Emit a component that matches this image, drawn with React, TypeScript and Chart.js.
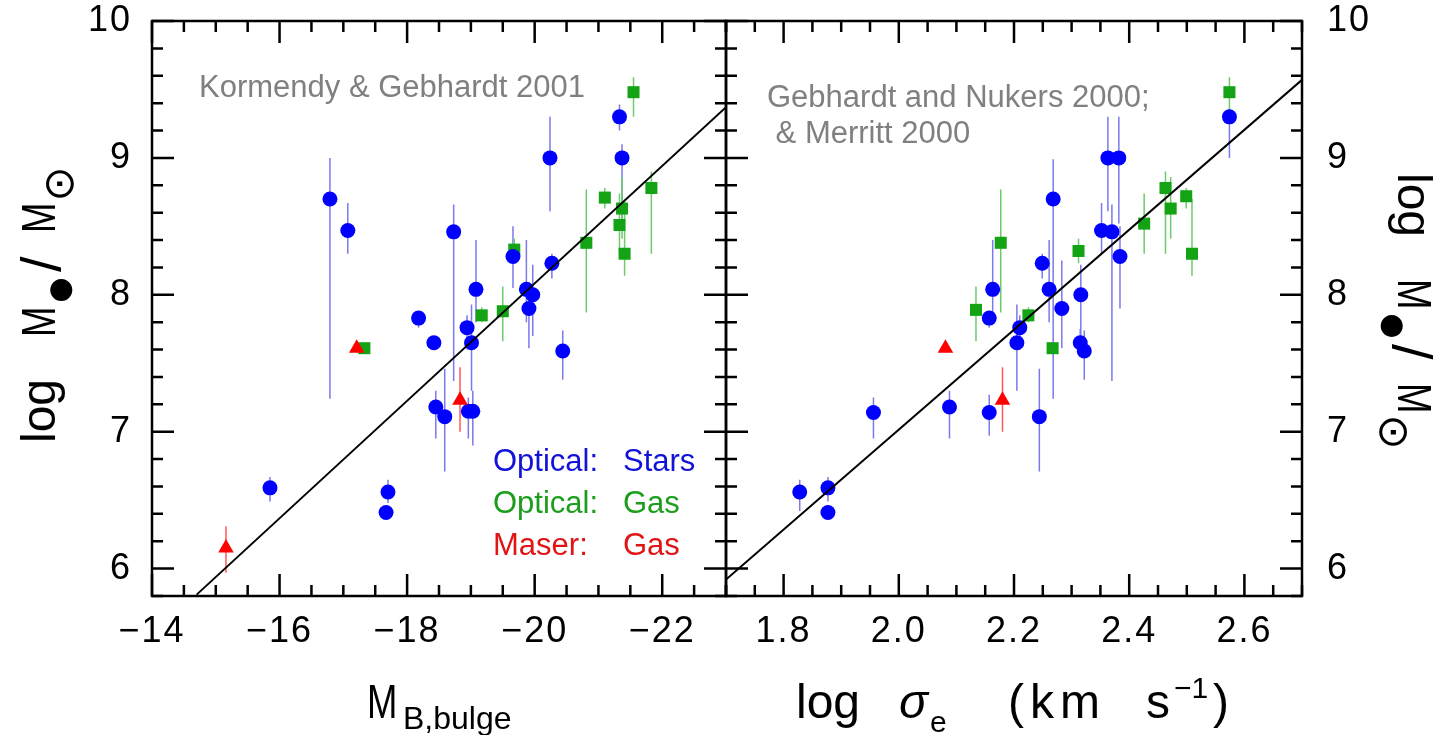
import React, { useEffect, useRef } from "react";
import { Chart, registerables } from "chart.js";
Chart.register(...registerables);

// ---------- axes ----------
const yMin = 5.8;
const yMax = 10;
const yStep = 0.2;
const yLabels = [6, 7, 8, 9, 10];

const leftXMin = -23;
const leftXMax = -14;
const leftXStep = 0.5;
const leftXLabels = [-14, -16, -18, -20, -22];

const rightXMin = 1.7;
const rightXMax = 2.7;
const rightXStep = 0.05;
const rightXLabels = [1.8, 2.0, 2.2, 2.4, 2.6];

// ---------- left panel: M_B,bulge ----------
const leftStarsX = [-16.79, -17.07, -18.73, -19.08, -19.66, -19.87, -19.97, -19.91, -20.24, -20.27, -21.33, -21.37, -18.18, -18.42, -18.45, -18.59, -15.85, -17.70, -17.67, -18.94, -19.01, -20.44, -18.96, -19.03];
const leftStarsY = [8.70, 8.47, 8.46, 8.04, 8.28, 8.04, 8.00, 7.90, 9.00, 8.23, 9.30, 9.00, 7.83, 7.65, 7.18, 7.11, 6.59, 6.56, 6.41, 7.76, 7.65, 7.59, 7.15, 7.15];
const leftStarsLo = [7.24, 8.30, 7.37, 7.80, 8.05, 7.80, 7.70, 7.61, 8.61, 8.12, 9.20, 8.52, 7.76, 7.60, 6.95, 6.71, 6.49, 6.48, 6.38, 7.60, 7.30, 7.38, 6.95, 6.90];
const leftStarsHi = [9.00, 8.67, 8.66, 8.40, 8.50, 8.40, 8.22, 8.05, 9.30, 8.30, 9.39, 9.10, 7.88, 7.70, 7.30, 7.46, 6.67, 6.65, 6.45, 7.85, 7.93, 7.74, 7.25, 7.30];

const leftGasX = [-17.33, -19.68, -20.81, -21.10, -21.37, -21.33, -21.41, -21.55, -21.83, -19.17, -19.50];
const leftGasY = [7.61, 8.33, 8.38, 8.71, 8.63, 8.51, 8.30, 9.48, 8.78, 7.85, 7.88];
const leftGasLo = [7.58, 8.25, 7.87, 8.63, 8.41, 8.30, 8.14, 9.30, 8.30, 7.80, 7.66];
const leftGasHi = [7.64, 8.41, 8.77, 8.78, 8.86, 8.74, 8.70, 9.59, 8.90, 7.91, 8.06];

const leftMaserX = [-15.16, -17.21, -18.83];
const leftMaserY = [6.15, 7.61, 7.23];
const leftMaserLo = [5.97, 7.58, 7.00];
const leftMaserHi = [6.31, 7.64, 7.47];

const leftFitX = [-14.7, -23.0];
const leftFitY = [5.81, 9.37];

// ---------- right panel: log sigma_e ----------
const rightStarsX = [1.828, 1.877, 1.877, 1.956, 2.088, 2.157, 2.244, 2.163, 2.157, 2.210, 2.205, 2.261, 2.268, 2.249, 2.283, 2.316, 2.315, 2.322, 2.352, 2.370, 2.363, 2.382, 2.384, 2.574];
const rightStarsY = [6.56, 6.59, 6.41, 7.14, 7.18, 7.14, 7.11, 8.04, 7.83, 7.76, 7.65, 8.04, 8.70, 8.23, 7.90, 8.00, 7.65, 7.59, 8.47, 8.46, 9.00, 9.00, 8.28, 9.30];
const rightStarsLo = [6.42, 6.49, 6.38, 6.95, 6.95, 6.97, 6.71, 7.85, 7.76, 7.60, 7.30, 7.80, 7.24, 8.12, 7.61, 7.70, 7.55, 7.38, 8.30, 7.37, 8.61, 8.52, 7.90, 9.00];
const rightStarsHi = [6.65, 6.67, 6.45, 7.25, 7.30, 7.27, 7.46, 8.40, 7.88, 7.85, 7.93, 8.40, 8.99, 8.30, 8.25, 8.22, 7.75, 7.74, 8.67, 8.66, 9.30, 9.30, 8.50, 9.36];

const rightGasX = [2.134, 2.177, 2.225, 2.267, 2.312, 2.426, 2.463, 2.472, 2.499, 2.509, 2.574];
const rightGasY = [7.89, 8.38, 7.85, 7.61, 8.32, 8.52, 8.78, 8.63, 8.72, 8.30, 9.48];
const rightGasLo = [7.66, 7.87, 7.80, 7.58, 8.23, 8.30, 8.30, 8.41, 8.63, 8.14, 9.30];
const rightGasHi = [8.06, 8.77, 7.91, 7.64, 8.41, 8.74, 8.90, 8.86, 8.78, 8.70, 9.59];

const rightMaserX = [2.081, 2.180];
const rightMaserY = [7.61, 7.23];
const rightMaserLo = [7.58, 7.00];
const rightMaserHi = [7.64, 7.47];

const rightFitX = [1.7, 2.7];
const rightFitY = [5.92, 9.57];

// ---------- texts ----------
const leftNote = "Kormendy & Gebhardt 2001";
const rightNote1 = "Gebhardt and Nukers 2000;";
const rightNote2 = " & Merritt 2000";
const legendRows = [
  ["Optical:", "Stars"],
  ["Optical:", "Gas"],
  ["Maser:", "Gas"],
];

// ---------- styles ----------
const FONT = '"Liberation Sans", Arial, sans-serif';
const SYM = '"DejaVu Sans", sans-serif';
const BLUE = "#0000ff";
const GREEN = "#14a314";
const RED = "#ff0000";
const BLUE_ERR = "#7a7aec";
const GREEN_ERR = "#6ccc6c";
const RED_ERR = "#ff5a5a";
const LEGEND_COLORS = ["#1212d8", "#1c9e1c", "#e01414"];
const NOTE_GRAY = "#808080";

const pts = (xs: number[], ys: number[]) => xs.map((x, i) => ({ x, y: ys[i] }));
const near = (arr: number[], v: number) => arr.some((a) => Math.abs(a - v) < 1e-6);
const minus = (v: number) => (v < 0 ? "\u2212" + Math.abs(v) : String(v));

function frameTicksPlugin(xMajor: number[], yMajor: number[]) {
  return {
    id: "frameTicks",
    beforeDraw(chart: any) {
      // slightly wider tick-label spacing, like the plotting font of the original
      (chart.ctx as any).letterSpacing = "2px";
    },
    beforeDatasetsDraw(chart: any) {
      (chart.ctx as any).letterSpacing = "0px";
    },
    afterDraw(chart: any) {
      const { ctx, chartArea: a, scales } = chart;
      ctx.save();
      ctx.strokeStyle = "#000";
      ctx.lineWidth = 2.5;
      ctx.beginPath();
      for (const t of scales.x.ticks) {
        const p = scales.x.getPixelForValue(t.value);
        const L = near(xMajor, t.value) ? 22 : 11;
        ctx.moveTo(p, a.bottom);
        ctx.lineTo(p, a.bottom - L);
        ctx.moveTo(p, a.top);
        ctx.lineTo(p, a.top + L);
      }
      for (const t of scales.y.ticks) {
        const p = scales.y.getPixelForValue(t.value);
        const L = near(yMajor, t.value) ? 22 : 11;
        ctx.moveTo(a.left, p);
        ctx.lineTo(a.left + L, p);
        ctx.moveTo(a.right, p);
        ctx.lineTo(a.right - L, p);
      }
      ctx.stroke();
      ctx.strokeRect(a.left, a.top, a.right - a.left, a.bottom - a.top);
      ctx.restore();
    },
  };
}

const errorBarPlugin = {
  id: "errorBars",
  beforeDatasetsDraw(chart: any) {
    const { ctx, scales } = chart;
    ctx.save();
    ctx.lineWidth = 1.5;
    chart.data.datasets.forEach((ds: any) => {
      if (!ds.errLo) return;
      ctx.strokeStyle = ds.errColor;
      ctx.beginPath();
      ds.data.forEach((p: any, i: number) => {
        const px = scales.x.getPixelForValue(p.x);
        ctx.moveTo(px, scales.y.getPixelForValue(ds.errLo[i]));
        ctx.lineTo(px, scales.y.getPixelForValue(ds.errHi[i]));
      });
      ctx.stroke();
    });
    ctx.restore();
  },
};

function txt(ctx: CanvasRenderingContext2D, s: string, x: number, y: number, font: string, color: string, align: CanvasTextAlign = "left", base: CanvasTextBaseline = "alphabetic") {
  ctx.font = font;
  ctx.fillStyle = color;
  ctx.textAlign = align;
  ctx.textBaseline = base;
  ctx.fillText(s, x, y);
}

function narrowM(ctx: CanvasRenderingContext2D, x: number, y: number) {
  ctx.save();
  ctx.translate(x, y);
  ctx.scale(0.76, 1);
  txt(ctx, "M", 0, 0, `48px ${FONT}`, "#000");
  ctx.restore();
}

// "log M●/M⊙" drawn along a rotated baseline
function massTitle(ctx: CanvasRenderingContext2D, ox: number, oy: number, angle: number) {
  ctx.save();
  ctx.translate(ox, oy);
  ctx.rotate(angle);
  txt(ctx, "log", 0, 0, `48px ${FONT}`, "#000");
  narrowM(ctx, 106, 0);
  txt(ctx, "\u25CF", 153, 6, `29px ${SYM}`, "#000", "center", "middle");
  txt(ctx, "/", 171, 5, `56px ${FONT}`, "#000");
  narrowM(ctx, 210, 0);
  txt(ctx, "\u2299", 259, 7, `42px ${SYM}`, "#000", "center", "middle");
  ctx.restore();
}

function datasets(fx: number[], fy: number[], sx: number[], sy: number[], slo: number[], shi: number[], gx: number[], gy: number[], glo: number[], ghi: number[], mx: number[], my: number[], mlo: number[], mhi: number[]) {
  return [
    { label: "fit", data: pts(fx, fy), showLine: true, borderColor: "#000", borderWidth: 2, pointRadius: 0, fill: false },
    { label: "Maser: Gas", data: pts(mx, my), pointStyle: "triangle", pointRadius: 9, pointBackgroundColor: RED, pointBorderWidth: 0, backgroundColor: RED, borderColor: RED, errLo: mlo, errHi: mhi, errColor: RED_ERR },
    { label: "Optical: Stars", data: pts(sx, sy), pointStyle: "circle", pointRadius: 7.5, pointBackgroundColor: BLUE, pointBorderWidth: 0, backgroundColor: BLUE, borderColor: BLUE, errLo: slo, errHi: shi, errColor: BLUE_ERR },
    { label: "Optical: Gas", data: pts(gx, gy), pointStyle: "rect", pointRadius: 8.5, pointBackgroundColor: GREEN, pointBorderWidth: 0, backgroundColor: GREEN, borderColor: GREEN, errLo: glo, errHi: ghi, errColor: GREEN_ERR },
  ];
}

const tickFont = { family: FONT, size: 36, lineHeight: 1 };

function zeroPad(s: any) {
  s.paddingTop = 0;
  s.paddingBottom = 0;
  s.paddingLeft = 0;
  s.paddingRight = 0;
}

function yScale(position: "left" | "right", width: number, padding: number) {
  return {
    type: "linear",
    position,
    min: yMin,
    max: yMax,
    grid: { display: false, drawTicks: false },
    border: { display: false },
    ticks: {
      stepSize: yStep,
      autoSkip: false,
      padding,
      color: "#000",
      font: tickFont,
      callback: (v: any) => (near(yLabels, Number(v)) ? String(Math.round(Number(v))) : ""),
    },
    afterFit: (s: any) => {
      s.width = width;
      zeroPad(s);
    },
  };
}

function xScale(min: number, max: number, step: number, reverse: boolean, fmt: (v: number) => string) {
  return {
    type: "linear",
    position: "bottom",
    min,
    max,
    reverse,
    grid: { display: false, drawTicks: false },
    border: { display: false },
    ticks: {
      stepSize: step,
      autoSkip: false,
      maxRotation: 0,
      padding: 18,
      color: "#000",
      font: tickFont,
      callback: (v: any) => fmt(Number(v)),
    },
    afterFit: (s: any) => {
      s.height = 139;
      zeroPad(s);
    },
  };
}

function leftConfig(): any {
  return {
    type: "scatter",
    data: {
      datasets: datasets(leftFitX, leftFitY, leftStarsX, leftStarsY, leftStarsLo, leftStarsHi, leftGasX, leftGasY, leftGasLo, leftGasHi, leftMaserX, leftMaserY, leftMaserLo, leftMaserHi),
    },
    options: {
      responsive: false,
      animation: false,
      events: [],
      layout: { padding: { top: 21, right: 14, left: 0, bottom: 0 } },
      plugins: { legend: { display: false }, tooltip: { enabled: false } },
      scales: {
        x: xScale(leftXMin, leftXMax, leftXStep, true, (v) => (near(leftXLabels, v) ? minus(Math.round(v)) : "")),
        y: yScale("left", 152, 20),
      },
    },
    plugins: [
      errorBarPlugin,
      frameTicksPlugin(leftXLabels, yLabels),
      {
        id: "leftTexts",
        afterDraw(chart: any) {
          const ctx: CanvasRenderingContext2D = chart.ctx;
          ctx.save();
          txt(ctx, leftNote, 199, 97, `31px ${FONT}`, NOTE_GRAY);
          const rowY = [471, 513, 555];
          legendRows.forEach((r, i) => {
            txt(ctx, r[0], 493, rowY[i], `31px ${FONT}`, LEGEND_COLORS[i]);
            txt(ctx, r[1], 623, rowY[i], `31px ${FONT}`, LEGEND_COLORS[i]);
          });
          massTitle(ctx, 55, 443, -Math.PI / 2);
          narrowM(ctx, 367, 718);
          txt(ctx, "B,bulge", 403, 729, `32px ${FONT}`, "#000");
          ctx.restore();
        },
      },
    ],
  };
}

const RIGHT_LEFT = 712;

function rightConfig(): any {
  return {
    type: "scatter",
    data: {
      datasets: datasets(rightFitX, rightFitY, rightStarsX, rightStarsY, rightStarsLo, rightStarsHi, rightGasX, rightGasY, rightGasLo, rightGasHi, rightMaserX, rightMaserY, rightMaserLo, rightMaserHi),
    },
    options: {
      responsive: false,
      animation: false,
      events: [],
      layout: { padding: { top: 21, right: 0, left: 726 - RIGHT_LEFT, bottom: 0 } },
      plugins: { legend: { display: false }, tooltip: { enabled: false } },
      scales: {
        x: xScale(rightXMin, rightXMax, rightXStep, false, (v) => (near(rightXLabels, v) ? v.toFixed(1) : "")),
        y: yScale("right", 1439 - 1302, 25),
      },
    },
    plugins: [
      errorBarPlugin,
      frameTicksPlugin(rightXLabels, yLabels),
      {
        id: "rightTexts",
        afterDraw(chart: any) {
          const ctx: CanvasRenderingContext2D = chart.ctx;
          ctx.save();
          ctx.translate(-RIGHT_LEFT, 0);
          txt(ctx, rightNote1, 767, 107, `31px ${FONT}`, NOTE_GRAY);
          txt(ctx, rightNote2, 767, 143, `31px ${FONT}`, NOTE_GRAY);
          massTitle(ctx, 1398, 173, Math.PI / 2);
          const big = `48px ${FONT}`;
          txt(ctx, "log", 796, 718, big, "#000");
          txt(ctx, "\u03C3", 899, 718, `italic 48px ${FONT}`, "#000");
          txt(ctx, "e", 930, 732, `30px ${FONT}`, "#000");
          txt(ctx, "(", 1008, 718, big, "#000");
          (ctx as any).letterSpacing = "6px";
          txt(ctx, "km", 1030, 718, big, "#000");
          (ctx as any).letterSpacing = "0px";
          txt(ctx, "s", 1146, 718, big, "#000");
          txt(ctx, "\u22121", 1174, 698, `30px ${FONT}`, "#000");
          txt(ctx, ")", 1213, 718, big, "#000");
          ctx.restore();
        },
      },
    ],
  };
}

export default function App() {
  const leftRef = useRef<HTMLCanvasElement>(null);
  const rightRef = useRef<HTMLCanvasElement>(null);
  useEffect(() => {
    const c1 = new Chart(leftRef.current as HTMLCanvasElement, leftConfig());
    const c2 = new Chart(rightRef.current as HTMLCanvasElement, rightConfig());
    return () => {
      c1.destroy();
      c2.destroy();
    };
  }, []);
  return (
    <div style={{ position: "absolute", left: 0, top: 0, width: 1439, height: 735, background: "#fff", overflow: "hidden" }}>
      <canvas ref={leftRef} width={740} height={735} style={{ position: "absolute", left: 0, top: 0 }} />
      <canvas ref={rightRef} width={1439 - RIGHT_LEFT} height={735} style={{ position: "absolute", left: RIGHT_LEFT, top: 0 }} />
    </div>
  );
}
